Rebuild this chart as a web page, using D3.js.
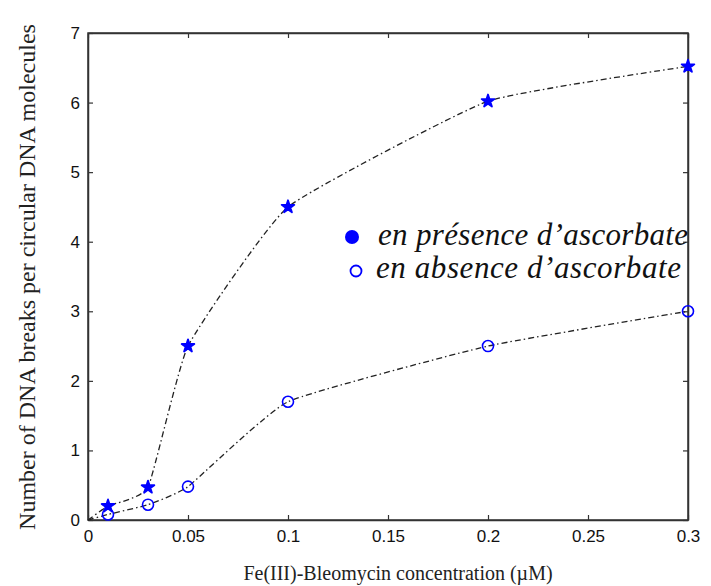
<!DOCTYPE html>
<html><head><meta charset="utf-8">
<script src="https://cdn.jsdelivr.net/npm/d3@7"></script>
<style>
body{margin:0;background:#fff}
.serif{font-family:'Liberation Serif','Times New Roman',serif}
.sans{font-family:'Liberation Sans',Arial,sans-serif}
</style>
</head><body>
<svg id="c" width="711" height="586"></svg>
<script>
const concentrations = [0.01, 0.03, 0.05, 0.1, 0.2, 0.3];
const withAscorbate = [0.2, 0.47, 2.5, 4.5, 6.02, 6.52];
const withoutAscorbate = [0.08, 0.22, 0.48, 1.7, 2.5, 3.0];
const lineOrigin = [0, 0];
const xTicks = [0, 0.05, 0.1, 0.15, 0.2, 0.25, 0.3];
const yTicks = [0, 1, 2, 3, 4, 5, 6, 7];
const legendLabels = ["en présence d\u2019ascorbate", "en absence d\u2019ascorbate"];
const xTitle = "Fe(III)-Bleomycin concentration (\u00b5M)";
const yTitle = "Number of DNA breaks per circular DNA molecules";

const svg = d3.select("#c");
const W = 711, H = 586;
const m = {l: 88, r: W - 688, t: 33, b: H - 520};
const x = d3.scaleLinear().domain([0, 0.3]).range([m.l, W - m.r]);
const y = d3.scaleLinear().domain([0, 7]).range([H - m.b, m.t]);
const axisColor = "#333";

svg.append("rect").attr("x", x(0)).attr("y", y(7)).attr("width", x(0.3)-x(0)).attr("height", y(0)-y(7))
  .attr("fill", "none").attr("stroke", axisColor).attr("stroke-width", 1.5);

const fmt = d => d === 0 ? "0" : String(d);
const gx = svg.append("g").attr("transform", `translate(0,${y(0)})`)
  .call(d3.axisBottom(x).tickValues(xTicks).tickFormat(fmt).tickSizeInner(-5).tickSizeOuter(0).tickPadding(10));
const gxt = svg.append("g").attr("transform", `translate(0,${y(7)})`)
  .call(d3.axisTop(x).tickValues(xTicks).tickFormat("").tickSizeInner(-5).tickSizeOuter(0));
const gy = svg.append("g").attr("transform", `translate(${x(0)},0)`)
  .call(d3.axisLeft(y).tickValues(yTicks).tickFormat(fmt).tickSizeInner(-5).tickSizeOuter(0).tickPadding(8));
const gyr = svg.append("g").attr("transform", `translate(${x(0.3)},0)`)
  .call(d3.axisRight(y).tickValues(yTicks).tickFormat("").tickSizeInner(-5).tickSizeOuter(0));
[gx, gxt, gy, gyr].forEach(g => {
  g.attr("font-family", null).attr("font-size", null);
  g.select(".domain").attr("stroke", axisColor).attr("stroke-width", 1.5);
  g.selectAll(".tick line").attr("stroke", axisColor).attr("stroke-width", 1.2);
  g.selectAll("text").attr("class", "sans").style("font-size", "17px").attr("fill", "#111");
});

const lineGen = d3.line().x(d => x(d[0])).y(d => y(d[1])).curve(d3.curveCardinal.tension(0.6));
[withAscorbate, withoutAscorbate].forEach(vals => {
  const pts = [lineOrigin].concat(concentrations.map((c, i) => [c, vals[i]]));
  svg.append("path").attr("d", lineGen(pts)).attr("fill", "none")
    .attr("stroke", "#222").attr("stroke-width", 1.3).attr("stroke-dasharray", "6,3,1.5,3");
});

const star = d3.symbol().type(d3.symbolStar).size(50);
svg.append("g").selectAll("path").data(concentrations).join("path")
  .attr("d", star).attr("transform", (c, i) => `translate(${x(c)},${y(withAscorbate[i])})`)
  .attr("fill", "#0000ff").attr("stroke", "#0000ff").attr("stroke-width", 1.8).attr("stroke-linejoin", "round");
svg.append("g").selectAll("circle").data(concentrations).join("circle")
  .attr("cx", c => x(c)).attr("cy", (c, i) => y(withoutAscorbate[i])).attr("r", 5.5)
  .attr("fill", "none").attr("stroke", "#0000ff").attr("stroke-width", 1.6);

const lg = svg.append("g");
lg.append("circle").attr("cx", 352).attr("cy", 237).attr("r", 7).attr("fill", "#0000ff");
lg.append("circle").attr("cx", 356).attr("cy", 271).attr("r", 5.5).attr("fill", "none").attr("stroke", "#0000ff").attr("stroke-width", 1.8);
const legendWidths = [310, 305];
lg.selectAll("text").data(legendLabels).join("text")
  .attr("class", "serif").attr("x", (d, i) => i === 0 ? 378 : 376).attr("y", (d, i) => 245 + i * 33)
  .attr("textLength", (d, i) => legendWidths[i]).attr("lengthAdjust", "spacing")
  .style("font-style", "italic").style("font-size", "31px").attr("fill", "#111").text(d => d);

svg.append("text").attr("class", "serif").attr("x", 398).attr("y", 580).attr("text-anchor", "middle")
  .style("font-size", "20px").attr("fill", "#222").text(xTitle);
svg.append("text").attr("class", "serif").attr("transform", `translate(35,277) rotate(-90)`).attr("text-anchor", "middle")
  .style("font-size", "24px").attr("fill", "#222").text(yTitle);
</script>
</body></html>
